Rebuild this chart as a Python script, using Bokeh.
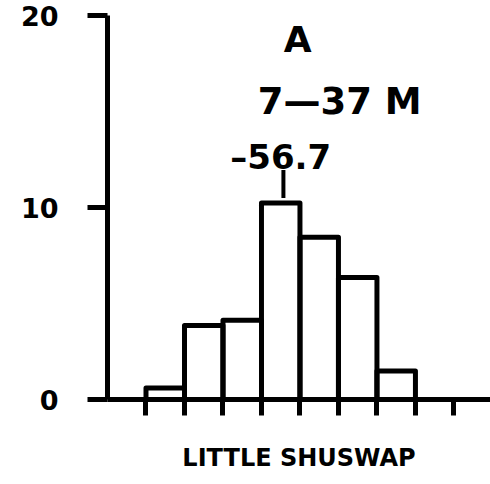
from bokeh.plotting import figure
from bokeh.models import FixedTicker, Range1d
from bokeh.core.properties import value
from bokeh.embed import file_html
from bokeh.resources import INLINE

# ---- data ----
bin_edges = [1, 2, 3, 4, 5, 6, 7, 8]
counts = [0.6, 3.85, 4.13, 10.23, 8.45, 6.35, 1.48]
y_ticks = [0, 10, 20]
x_ticks = [1, 2, 3, 4, 5, 6, 7, 8, 9]
panel_letter = "A"
depth_label = "7\u201437 M"
mean_label = "\u201356.7"
mean_pos = 4.57
lake_name = "LITTLE SHUSWAP"

FONT = "DejaVu Sans"

p = figure(width=490, height=484, output_backend="svg", toolbar_location=None,
           x_range=Range1d(0, 9.95), y_range=Range1d(0, 20),
           min_border_left=107, min_border_right=0, min_border_top=15,
           min_border_bottom=85)
p.outline_line_color = None
p.xgrid.visible = False
p.ygrid.visible = False
p.background_fill_color = "white"
p.border_fill_color = "white"

# bars
p.quad(left=bin_edges[:-1], right=bin_edges[1:], bottom=0, top=counts,
       fill_color=None, line_color="black", line_width=5, line_join="round")

# mean marker
p.segment(x0=[mean_pos], x1=[mean_pos], y0=[10.5], y1=[11.95],
          line_color="black", line_width=4)

# texts
p.text(x=[4.94], y=[18.75], text=[panel_letter], text_font=value(FONT),
       text_font_style="bold", text_font_size="36px", text_align="center",
       text_baseline="alphabetic", text_color="black")
p.text(x=[6.03], y=[15.5], text=[depth_label], text_font=value(FONT),
       text_font_style="bold", text_font_size="37px", text_align="center",
       text_baseline="alphabetic", text_color="black")
p.text(x=[3.19], y=[12.63], text=[mean_label], text_font=value(FONT),
       text_font_style="bold", text_font_size="34px", text_align="left",
       text_baseline="alphabetic", text_color="black")

# y axis
ya = p.yaxis[0]
ya.ticker = FixedTicker(ticks=y_ticks)
ya.axis_line_width = 5
ya.axis_line_color = "black"
ya.major_tick_line_width = 5
ya.major_tick_line_color = "black"
ya.major_tick_out = 20
ya.major_tick_in = 0
ya.minor_tick_line_color = None
ya.major_label_standoff = 29
ya.major_label_text_font = FONT
ya.major_label_text_font_style = "bold"
ya.major_label_text_font_size = "27px"
ya.major_label_text_color = "black"

# x axis
xa = p.xaxis[0]
xa.ticker = FixedTicker(ticks=x_ticks)
xa.axis_line_width = 5
xa.axis_line_color = "black"
xa.major_tick_line_width = 5
xa.major_tick_line_color = "black"
xa.major_tick_out = 16
xa.major_tick_in = 0
xa.minor_tick_line_color = None
xa.major_label_overrides = {t: "" for t in x_ticks}
xa.major_label_standoff = 0
xa.axis_label = lake_name
xa.axis_label_text_font = FONT
xa.axis_label_text_font_style = "bold"
xa.axis_label_text_font_size = "24px"
xa.axis_label_text_color = "black"
xa.axis_label_standoff = 28

open("out.html", "w").write(file_html(p, INLINE))
